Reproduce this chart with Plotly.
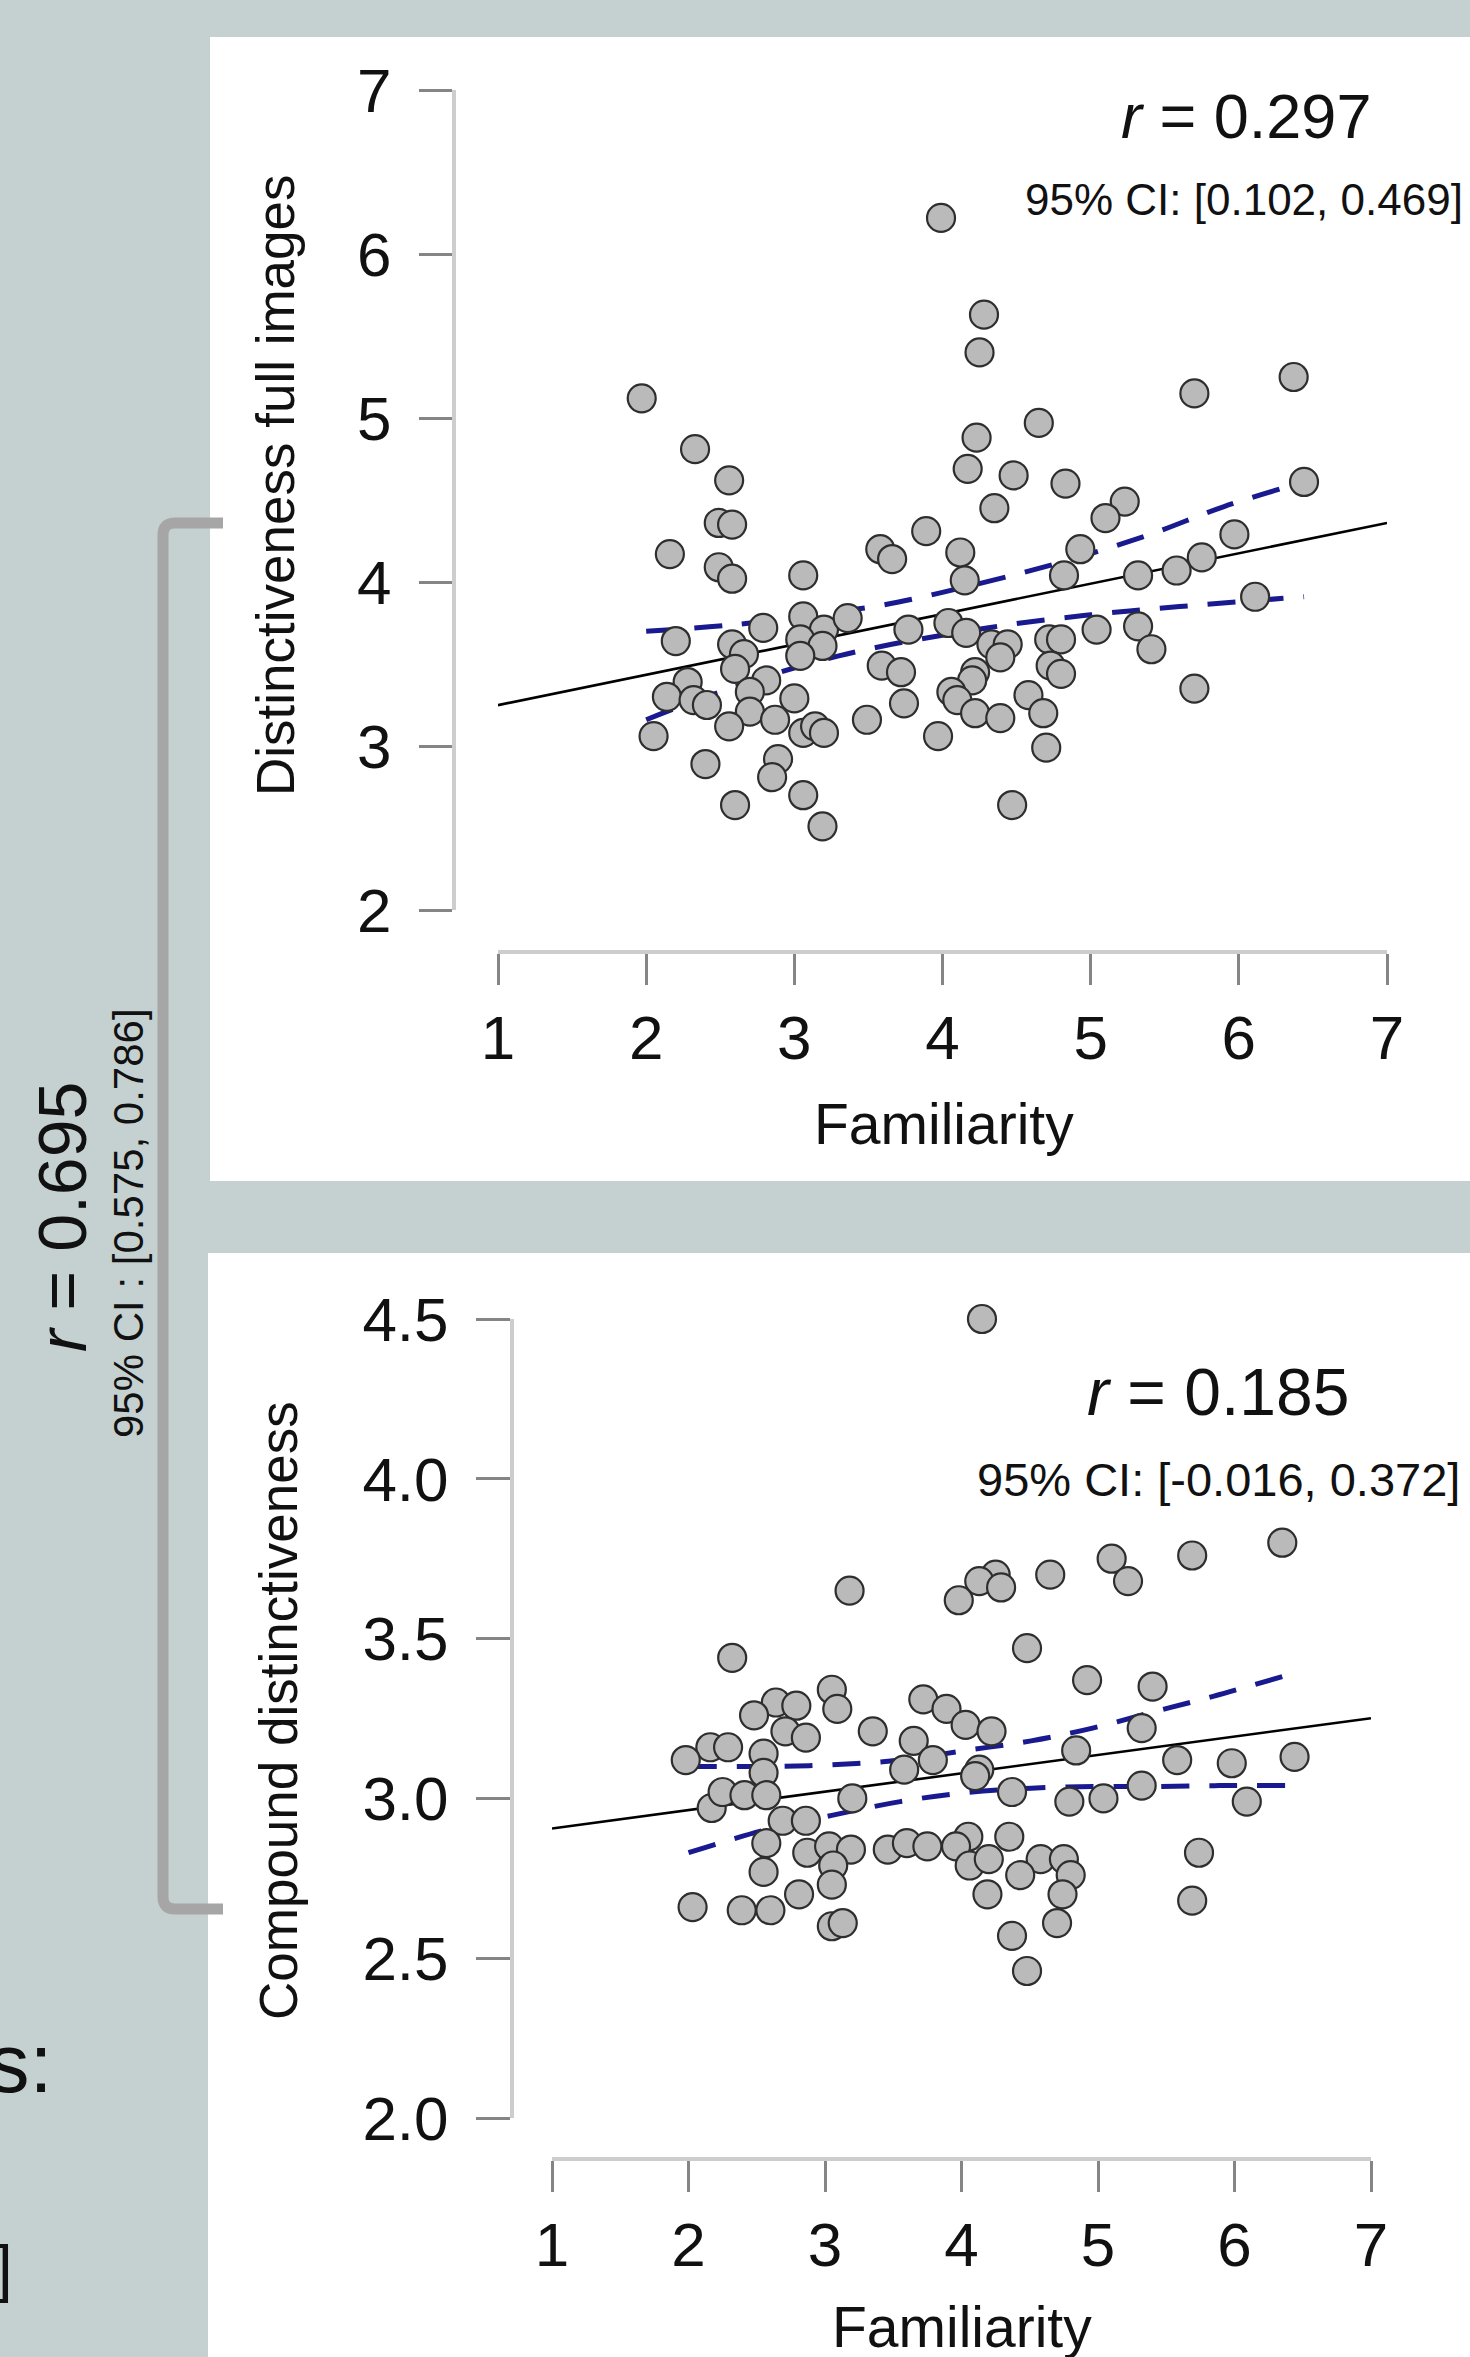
import plotly.graph_objects as go

W, H = 1470, 2357
FONT = "Liberation Sans, Arial, sans-serif"

# ---------------- data ----------------
top_x = [3.99, 4.28, 4.25, 1.97, 6.37, 5.70, 4.65, 2.33, 4.23, 2.56, 4.17, 4.48, 4.83, 6.44, 2.49, 2.58,
         4.35, 5.23, 5.10, 2.16, 3.89, 3.58, 3.66, 4.12, 4.93, 5.97, 5.75, 2.49, 2.58, 3.06, 4.15, 4.82,
         5.32, 5.58, 6.11, 2.79, 3.06, 3.20, 2.20, 2.58, 2.66, 3.04, 3.19, 3.04, 3.36, 3.77, 4.04, 4.16,
         4.33, 4.44, 4.72, 4.80, 5.04, 5.32, 5.41, 4.39, 3.59, 3.72, 4.22, 4.73, 4.80, 4.20, 2.60, 2.28,
         2.81, 2.14, 2.32, 2.41, 2.70, 3.00, 2.70, 4.06, 4.10, 4.22, 4.39, 4.58, 4.68, 3.74, 3.49, 2.56,
         2.87, 3.06, 3.14, 3.20, 2.05, 3.97, 4.70, 2.40, 2.89, 2.85, 3.06, 2.60, 4.47, 3.19, 5.70]
top_y = [6.22, 5.63, 5.40, 5.12, 5.25, 5.15, 4.97, 4.81, 4.88, 4.62, 4.69, 4.65, 4.60, 4.61, 4.36, 4.35,
         4.45, 4.49, 4.39, 4.17, 4.31, 4.20, 4.14, 4.18, 4.20, 4.29, 4.15, 4.09, 4.02, 4.04, 4.01, 4.04,
         4.04, 4.07, 3.91, 3.72, 3.79, 3.71, 3.64, 3.62, 3.56, 3.65, 3.61, 3.55, 3.78, 3.71, 3.75, 3.69,
         3.62, 3.62, 3.65, 3.65, 3.71, 3.73, 3.59, 3.54, 3.49, 3.45, 3.45, 3.49, 3.44, 3.40, 3.47, 3.39,
         3.40, 3.30, 3.28, 3.25, 3.33, 3.29, 3.21, 3.33, 3.28, 3.20, 3.17, 3.31, 3.20, 3.26, 3.16, 3.12,
         3.16, 3.08, 3.12, 3.08, 3.06, 3.06, 2.99, 2.89, 2.92, 2.81, 2.70, 2.64, 2.64, 2.51, 3.35]
top_fit_x = [1, 7]
top_fit_y = [3.249, 4.36]
top_ci_up_x = [2.0, 2.6, 3.2, 3.6, 4.2, 4.8, 5.4, 5.9, 6.44]
top_ci_up_y = [3.70, 3.74, 3.81, 3.86, 3.98, 4.12, 4.29, 4.46, 4.61]
top_ci_lo_x = [2.0, 2.5, 3.3, 4.3, 5.0, 5.6, 6.44]
top_ci_lo_y = [3.16, 3.33, 3.55, 3.72, 3.80, 3.85, 3.91]

bot_x = [4.15, 6.35, 5.69, 5.10, 5.22, 4.65, 4.25, 4.13, 4.29, 3.98, 3.18, 4.48, 2.32, 4.92, 5.40, 3.05,
         3.09, 2.64, 2.79, 2.48, 3.72, 3.89, 4.03, 4.22, 2.71, 2.86, 3.35, 3.65, 5.32, 2.16, 2.29, 1.98,
         2.55, 2.55, 3.79, 3.58, 4.13, 4.10, 4.84, 5.58, 5.98, 6.44, 5.32, 4.37, 4.79, 5.04, 6.09, 3.20,
         2.17, 2.25, 2.41, 2.57, 2.69, 2.86, 2.57, 2.87, 3.03, 3.19, 3.46, 3.60, 3.75, 4.05, 3.96, 4.06,
         4.20, 4.35, 4.58, 4.75, 4.43, 4.80, 5.74, 3.06, 2.55, 3.05, 2.81, 4.19, 4.74, 2.03, 2.39, 2.60,
         5.69, 3.05, 3.13, 4.70, 4.37, 4.48]
bot_y = [4.50, 3.80, 3.76, 3.75, 3.68, 3.70, 3.70, 3.68, 3.66, 3.62, 3.65, 3.47, 3.44, 3.37, 3.35, 3.34,
         3.28, 3.30, 3.29, 3.26, 3.31, 3.28, 3.23, 3.21, 3.21, 3.19, 3.21, 3.18, 3.22, 3.16, 3.16, 3.12,
         3.14, 3.08, 3.12, 3.09, 3.09, 3.07, 3.15, 3.12, 3.11, 3.13, 3.04, 3.02, 2.99, 3.00, 2.99, 3.00,
         2.97, 3.02, 3.01, 3.01, 2.93, 2.93, 2.86, 2.83, 2.85, 2.84, 2.84, 2.86, 2.85, 2.88, 2.85, 2.79,
         2.81, 2.88, 2.81, 2.81, 2.76, 2.76, 2.83, 2.79, 2.77, 2.73, 2.70, 2.70, 2.70, 2.66, 2.65, 2.65,
         2.68, 2.60, 2.61, 2.61, 2.57, 2.46]
bot_fit_x = [1, 7]
bot_fit_y = [2.906, 3.251]
bot_ci_up_x = [2.0, 2.55, 3.05, 3.55, 4.03, 4.51, 4.96, 5.40, 5.85, 6.42]
bot_ci_up_y = [3.10, 3.10, 3.105, 3.12, 3.15, 3.18, 3.22, 3.27, 3.32, 3.39]
bot_ci_lo_x = [2.0, 2.55, 3.05, 3.55, 4.03, 4.51, 4.99, 5.40, 5.89, 6.42]
bot_ci_lo_y = [2.83, 2.90, 2.947, 2.99, 3.018, 3.032, 3.037, 3.037, 3.04, 3.04]

top_xticks = [1, 2, 3, 4, 5, 6, 7]
top_yticks = [2, 3, 4, 5, 6, 7]
bot_xticks = [1, 2, 3, 4, 5, 6, 7]
bot_yticks = [2.0, 2.5, 3.0, 3.5, 4.0, 4.5]

# ---------------- helpers (pixel -> paper) ----------------
def px(x):
    return x / W

def py(y):
    return 1 - y / H

PT_FILL = "#bababa"
PT_LINE = "#2e2e2e"
CI_COLOR = "#1a1a90"

fig = go.Figure()

def add_panel(xs, ys, fx, fy, ux, uy, lx, ly, xa, ya):
    fig.add_trace(go.Scatter(x=fx, y=fy, mode="lines", xaxis=xa, yaxis=ya,
                             line=dict(color="black", width=2.6), showlegend=False, hoverinfo="skip"))
    fig.add_trace(go.Scatter(x=ux, y=uy, mode="lines", xaxis=xa, yaxis=ya,
                             line=dict(color=CI_COLOR, width=5, dash="28px,20px", shape="spline"),
                             showlegend=False, hoverinfo="skip"))
    fig.add_trace(go.Scatter(x=lx, y=ly, mode="lines", xaxis=xa, yaxis=ya,
                             line=dict(color=CI_COLOR, width=5, dash="28px,20px", shape="spline"),
                             showlegend=False, hoverinfo="skip"))
    fig.add_trace(go.Scatter(x=xs, y=ys, mode="markers", xaxis=xa, yaxis=ya, cliponaxis=False,
                             marker=dict(size=28, color=PT_FILL, line=dict(color=PT_LINE, width=2.2)),
                             showlegend=False))

add_panel(top_x, top_y, top_fit_x, top_fit_y, top_ci_up_x, top_ci_up_y, top_ci_lo_x, top_ci_lo_y, "x", "y")
add_panel(bot_x, bot_y, bot_fit_x, bot_fit_y, bot_ci_up_x, bot_ci_up_y, bot_ci_lo_x, bot_ci_lo_y, "x2", "y2")

axis_common = dict(showgrid=False, zeroline=False, showline=True, linecolor="#cdcdcd", linewidth=4,
                   ticks="outside", tickwidth=3, tickcolor="#858585", automargin=False,
                   tickfont=dict(family=FONT, size=62, color="#111111"), anchor="free")

fig.update_layout(
    width=W, height=H, margin=dict(l=0, r=0, t=0, b=0, pad=0, autoexpand=False),
    paper_bgcolor="#c5d1d1", plot_bgcolor="rgba(0,0,0,0)",
    xaxis=dict(axis_common, domain=[px(498), px(1387)], range=[1, 7], tickvals=top_xticks,
               ticklen=31, position=py(952), ticklabelstandoff=0),
    yaxis=dict(axis_common, domain=[py(910), py(90)], range=[2, 7], tickvals=top_yticks,
               ticklen=33, position=px(454), ticklabelstandoff=15),
    xaxis2=dict(axis_common, domain=[px(552), px(1371)], range=[1, 7], tickvals=bot_xticks,
                ticklen=31, position=py(2159), ticklabelstandoff=0),
    yaxis2=dict(axis_common, domain=[py(2118), py(1319)], range=[2, 4.5], tickvals=bot_yticks,
                tickformat=".1f", ticklen=34, position=px(512), ticklabelstandoff=15),
)

# white panels
fig.add_shape(type="rect", xref="paper", yref="paper", x0=px(210), x1=px(1470), y0=py(1181), y1=py(37),
              fillcolor="white", line=dict(width=0), layer="below")
fig.add_shape(type="rect", xref="paper", yref="paper", x0=px(208), x1=px(1470), y0=py(2357), y1=py(1253),
              fillcolor="white", line=dict(width=0), layer="below")

# bracket
bx, bt, bb, be, r = 163, 523, 1909, 223, 12
path = (f"M {px(be)},{py(bt)} L {px(bx + r)},{py(bt)} Q {px(bx)},{py(bt)} {px(bx)},{py(bt + r)} "
        f"L {px(bx)},{py(bb - r)} Q {px(bx)},{py(bb)} {px(bx + r)},{py(bb)} L {px(be)},{py(bb)}")
fig.add_shape(type="path", xref="paper", yref="paper", path=path,
              line=dict(color="#a6a6a6", width=11), layer="above")

def ann(text, x, y, size, angle=0, xanchor="center", yanchor="middle"):
    fig.add_annotation(text=text, x=px(x), y=py(y), xref="paper", yref="paper", showarrow=False,
                       textangle=angle, xanchor=xanchor, yanchor=yanchor,
                       font=dict(family=FONT, size=size, color="#111111"))

# axis titles
ann("Distinctiveness full images", 275, 485, 53, angle=-90)
ann("Familiarity", 944, 1124, 57)
ann("Compound distinctiveness", 278, 1711, 53, angle=-90)
ann("Familiarity", 962, 2327, 57)

# correlation labels
ann("<i>r</i> = 0.297", 1246, 116, 63)
ann("95% CI: [0.102, 0.469]", 1244, 200, 44)
ann("<i>r</i> = 0.185", 1218, 1392, 66)
ann("95% CI: [-0.016, 0.372]", 1218, 1479, 47)

# left side
ann("<i>r</i> = 0.695", 62, 1217, 68, angle=-90)
ann("95% CI : [0.575, 0.786]", 128, 1223, 42, angle=-90)
ann("s:", 55, 2063, 83, xanchor="right")
ann("]", 15, 2268, 63, xanchor="right")

fig.write_html("out.html", config={"displayModeBar": False},
               post_script="document.body.style.margin='0px';document.body.style.overflow='hidden';")
